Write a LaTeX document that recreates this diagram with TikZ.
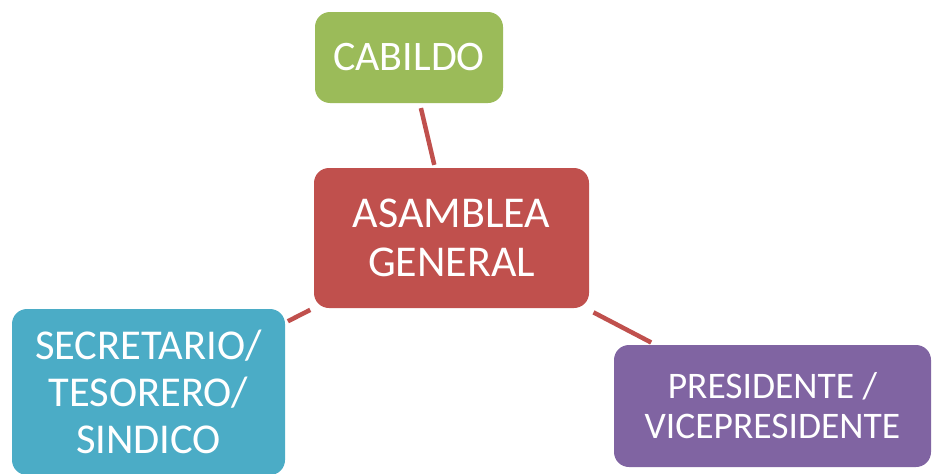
\documentclass[tikz,border=0pt]{standalone}
\usepackage{fontspec}
\setmainfont{Carlito}
\usetikzlibrary{backgrounds}
\definecolor{cgreen}{HTML}{9BBB59}
\definecolor{cred}{HTML}{C0504D}
\definecolor{cblue}{HTML}{4BACC6}
\definecolor{cpurple}{HTML}{8064A2}
\tikzset{
  box/.style={rounded corners=15pt, inner sep=0pt, align=center, text=white, draw=none},
  link/.style={draw=cred, line width=4.5pt}
}
\begin{document}
\begin{tikzpicture}[x=1pt,y=-1pt]
\useasboundingbox (0,0) rectangle (932,474);
\begin{scope}
\clip (0,0) rectangle (932,474);
\node[box, fill=cgreen, minimum width=188pt, minimum height=91pt, font=\fontsize{42}{49}\selectfont] (cab) at (409,57.5) {CABILDO};
\node[box, fill=cred, minimum width=275pt, minimum height=140pt, font=\fontsize{44}{49}\selectfont] (asa) at (451.5,238) {ASAMBLEA\\GENERAL};
\node[box, fill=cblue, minimum width=273pt, minimum height=166pt, font=\fontsize{42.5}{47}\selectfont] (sec) at (148.5,392) {SECRETARIO/\\TESORERO/\\SINDICO};
\node[box, fill=cpurple, minimum width=317pt, minimum height=122pt, font=\fontsize{37.5}{40}\selectfont] (pre) at (772.5,406) {PRESIDENTE /\\VICEPRESIDENTE};
\begin{pgfonlayer}{background}
\draw[link, shorten <=5pt, shorten >=3pt] (cab) -- (asa);
\draw[link, shorten <=4pt, shorten >=3pt] (asa) -- (sec);
\draw[link, shorten <=9pt, shorten >=5pt] (asa) -- (pre);
\end{pgfonlayer}
\end{scope}
\end{tikzpicture}
\end{document}
